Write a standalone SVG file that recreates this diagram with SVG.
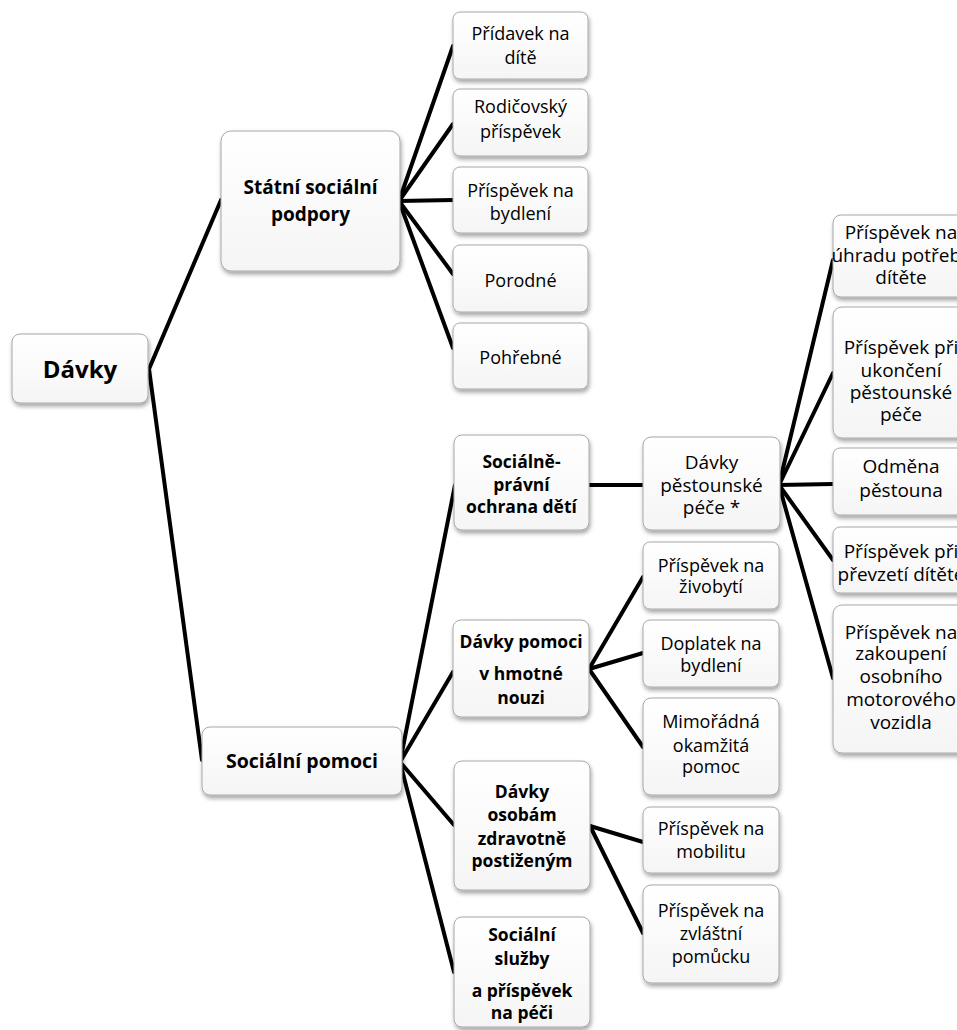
<svg xmlns="http://www.w3.org/2000/svg" width="957" height="1030" viewBox="0 0 957 1030">
<defs>
<linearGradient id="g" x1="0" y1="0" x2="0" y2="1">
<stop offset="0" stop-color="#ffffff"/>
<stop offset="1" stop-color="#f5f5f5"/>
</linearGradient>
<filter id="sh" x="-10%" y="-10%" width="130%" height="140%">
<feDropShadow dx="1" dy="3" stdDeviation="2" flood-color="#000" flood-opacity="0.35"/>
</filter>
</defs>
<style>
.box{fill:url(#g);stroke:#a8a8a8;stroke-width:1;filter:url(#sh)}
.t{font-family:"Open Sans","Liberation Sans",sans-serif;font-size:18px;fill:#000;text-anchor:middle}
.b{font-weight:bold}
.conn line{stroke:#000;stroke-width:4;stroke-linecap:round}
</style>
<g id="connectors" class="conn">
<line x1="149" y1="369" x2="221" y2="200"/>
<line x1="149" y1="369" x2="202" y2="760"/>
<line x1="399" y1="201" x2="453" y2="46"/>
<line x1="399" y1="201" x2="453" y2="124"/>
<line x1="399" y1="201" x2="453" y2="200"/>
<line x1="399" y1="201" x2="453" y2="274"/>
<line x1="399" y1="201" x2="453" y2="348"/>
<line x1="400" y1="762" x2="455" y2="485"/>
<line x1="400" y1="762" x2="453" y2="672"/>
<line x1="400" y1="762" x2="454" y2="825"/>
<line x1="400" y1="762" x2="454" y2="972"/>
<line x1="589" y1="485" x2="643" y2="485"/>
<line x1="779" y1="485" x2="833" y2="260"/>
<line x1="779" y1="485" x2="833" y2="373"/>
<line x1="779" y1="485" x2="833" y2="484"/>
<line x1="779" y1="485" x2="833" y2="560"/>
<line x1="779" y1="485" x2="833" y2="678"/>
<line x1="589" y1="669" x2="643" y2="577"/>
<line x1="589" y1="669" x2="643" y2="653"/>
<line x1="589" y1="669" x2="643" y2="747"/>
<line x1="590" y1="826" x2="643" y2="842"/>
<line x1="590" y1="826" x2="643" y2="933"/>
</g>
<g id="n-davky">
<rect class="box" x="12" y="334" width="136" height="69" rx="8"/>
<text class="t b" x="80" y="378" style="font-size:24px">Dávky</text>
</g>
<g id="n-statni">
<rect class="box" x="221" y="131" width="179" height="140" rx="10"/>
<text class="t b" x="310.5" y="194" style="font-size:19px">Státní sociální</text>
<text class="t b" x="310.5" y="221" style="font-size:19px">podpory</text>
</g>
<g id="n-pridavek">
<rect class="box" x="453" y="12" width="135" height="67" rx="7"/>
<text class="t" x="520.5" y="40">Přídavek na</text>
<text class="t" x="520.5" y="64">dítě</text>
</g>
<g id="n-rodicovsky">
<rect class="box" x="453" y="89" width="135" height="67" rx="7"/>
<text class="t" x="520.5" y="113">Rodičovský</text>
<text class="t" x="520.5" y="138">příspěvek</text>
</g>
<g id="n-bydleni">
<rect class="box" x="453" y="167" width="135" height="66" rx="7"/>
<text class="t" x="520.5" y="197">Příspěvek na</text>
<text class="t" x="520.5" y="220">bydlení</text>
</g>
<g id="n-porodne">
<rect class="box" x="453" y="245" width="135" height="67" rx="7"/>
<text class="t" x="520.5" y="287">Porodné</text>
</g>
<g id="n-pohrebne">
<rect class="box" x="453" y="323" width="135" height="66" rx="7"/>
<text class="t" x="520.5" y="364">Pohřebné</text>
</g>
<g id="n-socialni-pomoci">
<rect class="box" x="202" y="727" width="200" height="68" rx="8"/>
<text class="t b" x="302" y="768" style="font-size:19.5px">Sociální pomoci</text>
</g>
<g id="n-spod">
<rect class="box" x="454" y="435" width="135" height="95" rx="8"/>
<text class="t b" x="521.5" y="468" style="font-size:17.5px">Sociálně-</text>
<text class="t b" x="521.5" y="491" style="font-size:17.5px">právní</text>
<text class="t b" x="521.5" y="513" style="font-size:17.5px">ochrana dětí</text>
</g>
<g id="n-pestounske">
<rect class="box" x="643" y="437" width="137" height="93" rx="8"/>
<text class="t" x="711.5" y="469" style="font-size:19px">Dávky</text>
<text class="t" x="711.5" y="492" style="font-size:19px">pěstounské</text>
<text class="t" x="711.5" y="514" style="font-size:19px">péče *</text>
</g>
<g id="n-hmotne">
<rect class="box" x="453" y="620" width="136" height="97" rx="8"/>
<text class="t b" x="521" y="648" style="font-size:17.5px">Dávky pomoci</text>
<text class="t b" x="521" y="680" style="font-size:17.5px">v hmotné</text>
<text class="t b" x="521" y="704" style="font-size:17.5px">nouzi</text>
</g>
<g id="n-osobam">
<rect class="box" x="454" y="761" width="136" height="129" rx="8"/>
<text class="t b" x="522" y="798" style="font-size:17.5px">Dávky</text>
<text class="t b" x="522" y="821" style="font-size:17.5px">osobám</text>
<text class="t b" x="522" y="845" style="font-size:17.5px">zdravotně</text>
<text class="t b" x="522" y="867" style="font-size:17.5px">postiženým</text>
</g>
<g id="n-sluzby">
<rect class="box" x="454" y="917" width="136" height="110" rx="8"/>
<text class="t b" x="522" y="941" style="font-size:17.5px">Sociální</text>
<text class="t b" x="522" y="965" style="font-size:17.5px">služby</text>
<text class="t b" x="522" y="997" style="font-size:17.5px">a příspěvek</text>
<text class="t b" x="522" y="1019" style="font-size:17.5px">na péči</text>
</g>
<g id="n-zivobyti">
<rect class="box" x="643" y="542" width="136" height="67" rx="7"/>
<text class="t" x="711" y="572">Příspěvek na</text>
<text class="t" x="711" y="593">živobytí</text>
</g>
<g id="n-doplatek">
<rect class="box" x="643" y="620" width="136" height="67" rx="7"/>
<text class="t" x="711" y="650">Doplatek na</text>
<text class="t" x="711" y="672">bydlení</text>
</g>
<g id="n-mimoradna">
<rect class="box" x="643" y="698" width="136" height="97" rx="8"/>
<text class="t" x="711" y="728">Mimořádná</text>
<text class="t" x="711" y="752">okamžitá</text>
<text class="t" x="711" y="773">pomoc</text>
</g>
<g id="n-mobilitu">
<rect class="box" x="643" y="807" width="136" height="66" rx="7"/>
<text class="t" x="711" y="835">Příspěvek na</text>
<text class="t" x="711" y="858">mobilitu</text>
</g>
<g id="n-pomucku">
<rect class="box" x="643" y="885" width="136" height="98" rx="8"/>
<text class="t" x="711" y="917">Příspěvek na</text>
<text class="t" x="711" y="940">zvláštní</text>
<text class="t" x="711" y="963">pomůcku</text>
</g>
<g id="n-uhrada">
<rect class="box" x="833" y="215" width="137" height="82" rx="8"/>
<text class="t" x="901" y="239" style="font-size:19px">Příspěvek na</text>
<text class="t" x="901" y="262" style="font-size:19px">úhradu potřeby</text>
<text class="t" x="901" y="284" style="font-size:19px">dítěte</text>
</g>
<g id="n-ukonceni">
<rect class="box" x="833" y="307" width="137" height="131" rx="9"/>
<text class="t" x="901" y="354" style="font-size:19px">Příspěvek při</text>
<text class="t" x="901" y="377" style="font-size:19px">ukončení</text>
<text class="t" x="901" y="399" style="font-size:19px">pěstounské</text>
<text class="t" x="901" y="421" style="font-size:19px">péče</text>
</g>
<g id="n-odmena">
<rect class="box" x="833" y="448" width="137" height="67" rx="7"/>
<text class="t" x="901" y="473" style="font-size:19px">Odměna</text>
<text class="t" x="901" y="497" style="font-size:19px">pěstouna</text>
</g>
<g id="n-prevzeti">
<rect class="box" x="833" y="527" width="137" height="66" rx="7"/>
<text class="t" x="901" y="558" style="font-size:19px">Příspěvek při</text>
<text class="t" x="901" y="581" style="font-size:19px">převzetí dítěte</text>
</g>
<g id="n-vozidla">
<rect class="box" x="833" y="605" width="137" height="148" rx="9"/>
<text class="t" x="901" y="639" style="font-size:19px">Příspěvek na</text>
<text class="t" x="901" y="660" style="font-size:19px">zakoupení</text>
<text class="t" x="901" y="683" style="font-size:19px">osobního</text>
<text class="t" x="901" y="706" style="font-size:19px">motorového</text>
<text class="t" x="901" y="729" style="font-size:19px">vozidla</text>
</g>
</svg>
